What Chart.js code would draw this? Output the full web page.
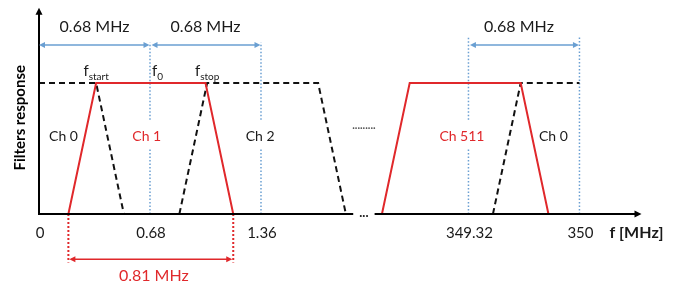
<!DOCTYPE html>
<html><head><meta charset="utf-8">
<script src="https://cdn.jsdelivr.net/npm/chart.js@4.4.1/dist/chart.umd.min.js"></script>
<style>html,body{margin:0;padding:0;background:#fff;overflow:hidden}#wrap{width:692px;height:284px}</style>
</head><body><div id="wrap"><canvas id="c" width="692" height="284"></canvas></div>
<script>
// ---------------- data (frequency in MHz, normalized filter response) ----------------
const AXIS_SHIFT = 346.689;                 // frequencies > 100 MHz are drawn after the axis break
const ch0Left  = [[0, 1], [0.35, 1], [0.52, 0]];
const ch1      = [[0.18, 0], [0.35, 1], [1.02, 1], [1.19, 0]];
const ch2      = [[0.86, 0], [1.03, 1], [1.71, 1], [1.88, 0]];
const ch511    = [[348.79, 0], [348.96, 1], [349.64, 1], [349.81, 0]];
const ch0Right = [[349.47, 0], [349.64, 1], [350, 1]];
const tickValues = [0, 0.68, 1.36, 349.32, 350];
const tickLabels = ['0', '0.68', '1.36', '349.32', '350'];
const gridFreqs  = [0.68, 1.36, 349.32, 350];
const gridTops   = [1.31, 1.31, 1.35, 1.35];
const gridHasGap = [true, true, true, false];
const spacingArrows = [[0, 0.68], [0.68, 1.36], [349.32, 350]];
const spacingLabel = '0.68 MHz';
const bandwidthEdges = [0.18, 1.19];
const bandwidthLabel = '0.81 MHz';
const channelNames = ['Ch 0', 'Ch 1', 'Ch 2', 'Ch 511', 'Ch 0'];
const channelLabelFreqs = [0.15, 0.66, 1.355, 349.28, 349.84];
const channelActive = [false, true, false, true, false];
const edgeNames = [['f', 'start'], ['f', '0'], ['f', 'stop']];
const edgeFreqs = [0.35, 0.68, 1.03];
const axisBreak = [1.925, 348.745];
const xTitle = 'f [MHz]';
const yTitle = 'Filters response';

// ---------------- layout / style ----------------
const AXIS_END = 350.38, Y_AXIS_TOP = 1.575;
const RED = '#e0282b', BLUE = '#6a9fd2', INK = '#1a1a1a';
const FONT = 'Lato, "Open Sans", sans-serif';
const fx = f => (f > 100 ? f - AXIS_SHIFT : f);
const pts = arr => arr.map(([f, v]) => ({ x: fx(f), y: v }));

const dashed = (arr) => ({ data: pts(arr), borderColor: '#111', borderWidth: 2, borderDash: [6, 4], order: 3 });
const solidRed = (arr) => ({ data: pts(arr), borderColor: RED, borderWidth: 2, order: 1 });

const datasets = [];
gridFreqs.forEach((f, i) => {
  const x = fx(f);
  const d = gridHasGap[i]
    ? [{ x, y: 0 }, { x, y: 0.5 }, { x, y: null }, { x, y: 0.72 }, { x, y: gridTops[i] }]
    : [{ x, y: 0 }, { x, y: gridTops[i] }];
  datasets.push({ data: d, borderColor: BLUE, borderWidth: 1.5, borderDash: [1.5, 2], order: 5 });
});
bandwidthEdges.forEach(f => {
  datasets.push({ data: [{ x: fx(f), y: 0 }, { x: fx(f), y: -0.37 }], borderColor: RED, borderWidth: 2, borderDash: [2, 2], order: 4 });
});
datasets.push(dashed(ch0Left), dashed(ch2), dashed(ch0Right), solidRed(ch1), solidRed(ch511));
datasets.forEach(d => { d.showLine = true; d.pointRadius = 0; d.spanGaps = false; d.fill = false; });

function head(ctx, x, y, ang, len, half, color) {
  ctx.save(); ctx.fillStyle = color; ctx.translate(x, y); ctx.rotate(ang);
  ctx.beginPath(); ctx.moveTo(0, 0); ctx.lineTo(-len, -half); ctx.lineTo(-len, half); ctx.closePath(); ctx.fill();
  ctx.restore();
}

const decor = {
  id: 'decor',
  afterDatasetsDraw(chart) {
    const { ctx, scales: { x, y } } = chart;
    const px = f => x.getPixelForValue(fx(f));
    const pxa = a => x.getPixelForValue(a);
    const py = v => y.getPixelForValue(v);
    ctx.save();
    // axes
    ctx.strokeStyle = '#000'; ctx.lineWidth = 2; ctx.setLineDash([]);
    ctx.beginPath();
    ctx.moveTo(px(0), py(0) + 1); ctx.lineTo(px(0), py(Y_AXIS_TOP) + 5);
    ctx.moveTo(px(0) - 1, py(0)); ctx.lineTo(pxa(axisBreak[0]), py(0));
    ctx.moveTo(px(axisBreak[1]), py(0)); ctx.lineTo(px(AXIS_END) - 5, py(0));
    ctx.stroke();
    head(ctx, px(0), py(Y_AXIS_TOP), -Math.PI / 2, 7, 3.5, '#000');
    head(ctx, px(AXIS_END), py(0), 0, 7, 3.5, '#000');
    // axis break dots
    const midBreak = (axisBreak[0] + fx(axisBreak[1])) / 2;
    ctx.fillStyle = INK; ctx.textAlign = 'center'; ctx.textBaseline = 'alphabetic';
    ctx.font = 'bold 13px ' + FONT;
    ctx.fillText('...', pxa(midBreak), py(0) + 3);
    ctx.fillStyle = '#555'; ctx.font = 'bold 11px ' + FONT;
    ctx.fillText('.........', pxa(midBreak), py(0.66) + 1);

    // spacing arrows (blue)
    const ay = py(1.29);
    ctx.strokeStyle = BLUE; ctx.lineWidth = 1.5;
    spacingArrows.forEach(([a, b]) => {
      const xa = px(a) + (a === 0 ? 0 : 1.5), xb = px(b) - 0.5;
      ctx.beginPath(); ctx.moveTo(xa + 3, ay); ctx.lineTo(xb - 3, ay); ctx.stroke();
      head(ctx, xa, ay, Math.PI, 6, 3, BLUE);
      head(ctx, xb, ay, 0, 6, 3, BLUE);
      ctx.fillStyle = INK; ctx.font = '16px ' + FONT; ctx.textAlign = 'center'; ctx.textBaseline = 'middle';
      ctx.fillText(spacingLabel, (px(a) + px(b)) / 2 - (a > 100 ? 5 : 0), py(1.425));
    });

    // bandwidth arrow (red)
    const by = py(-0.345);
    const xa = px(bandwidthEdges[0]), xb = px(bandwidthEdges[1]);
    ctx.strokeStyle = RED; ctx.lineWidth = 1.5;
    ctx.beginPath(); ctx.moveTo(xa + 3, by); ctx.lineTo(xb - 3, by); ctx.stroke();
    head(ctx, xa + 1, by, Math.PI, 6, 3, RED);
    head(ctx, xb - 1, by, 0, 6, 3, RED);
    ctx.fillStyle = RED; ctx.font = '16px ' + FONT; ctx.textAlign = 'center'; ctx.textBaseline = 'middle';
    ctx.fillText(bandwidthLabel, (xa + xb) / 2 + 3, py(-0.475));

    // tick labels
    ctx.fillStyle = INK; ctx.font = '15px ' + FONT;
    tickValues.forEach((v, i) => ctx.fillText(tickLabels[i], px(v) + 1, py(-0.147)));
    ctx.font = 'bold 16px ' + FONT; ctx.textAlign = 'left';
    ctx.fillText(xTitle, px(AXIS_END) - 32, py(-0.147));

    // channel labels
    ctx.font = '14px ' + FONT; ctx.textAlign = 'center';
    channelNames.forEach((n, i) => {
      ctx.fillStyle = channelActive[i] ? RED : INK;
      ctx.fillText(n, px(channelLabelFreqs[i]), py(0.595));
    });

    // edge labels f_start, f_0, f_stop
    ctx.fillStyle = INK; ctx.textBaseline = 'alphabetic';
    edgeNames.forEach(([base, sub], i) => {
      ctx.font = '15px ' + FONT; const wb = ctx.measureText(base).width;
      ctx.font = '10px ' + FONT; const ws = ctx.measureText(sub).width;
      let x0 = i === 1 ? px(edgeFreqs[i]) + 2 : px(edgeFreqs[i]) - (wb + ws) / 2;
      ctx.textAlign = 'left';
      ctx.font = '15px ' + FONT; ctx.fillText(base, x0, py(1.05));
      ctx.font = '10px ' + FONT; ctx.fillText(sub, x0 + wb, py(1.02));
    });

    // y title
    ctx.save();
    ctx.translate(px(0) - 19, py(0.735));
    ctx.rotate(-Math.PI / 2);
    ctx.font = 'bold 15px ' + FONT; ctx.textAlign = 'center'; ctx.textBaseline = 'middle';
    ctx.fillStyle = '#000';
    ctx.fillText(yTitle, 0, 0);
    ctx.restore();
    ctx.restore();
  }
};

new Chart(document.getElementById('c'), {
  type: 'scatter',
  data: { datasets },
  options: {
    responsive: false, animation: false, devicePixelRatio: 1,
    layout: { padding: { left: 39, right: 16.4, top: 4.4, bottom: 4.5 } },
    plugins: { legend: { display: false }, tooltip: { enabled: false } },
    elements: { line: { tension: 0, borderJoinStyle: 'miter' } },
    scales: {
      x: { type: 'linear', display: false, min: 0, max: 3.9 },
      y: { type: 'linear', display: false, min: -0.5, max: 1.6 }
    }
  },
  plugins: [decor]
});
</script>
</body></html>
